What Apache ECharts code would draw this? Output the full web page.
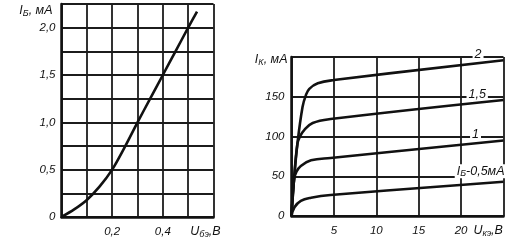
<!DOCTYPE html>
<html>
<head>
<meta charset="utf-8">
<script src="https://cdn.jsdelivr.net/npm/echarts@6/dist/echarts.min.js"></script>
<style>
html,body{margin:0;padding:0;background:#fff;}
#c{width:517px;height:249px;}
</style>
</head>
<body>
<div id="c"></div>
<script>
// ---- Input characteristic: I_B vs U_BE ----
const ubeV = [0, 0.05, 0.1, 0.15, 0.2, 0.25, 0.3, 0.35, 0.4, 0.45, 0.5, 0.535];
const ibMA = [0, 0.08, 0.18, 0.32, 0.5, 0.74, 1.0, 1.25, 1.5, 1.75, 2.0, 2.17];
const leftXTickVals = [0.2, 0.4];
const leftXTickText = ['0,2', '0,4'];
const leftYTickVals = [0, 0.5, 1.0, 1.5, 2.0];
const leftYTickText = ['0', '0,5', '1,0', '1,5', '2,0'];

// ---- Output characteristics: I_K vs U_KE for several I_B ----
const uke_2  = [0, 0.3, 0.7, 1.3, 1.7, 2.1, 3.1, 5, 25];
const ik_2   = [0, 46, 91, 137, 152, 160, 167, 171, 196];
const uke_15 = [0, 0.3, 0.7, 1.05, 1.5, 2.5, 4.6, 25];
const ik_15  = [0, 46, 91, 101, 108, 117, 122, 146];
const uke_1  = [0, 0.3, 0.6, 1.1, 2.3, 4.6, 25];
const ik_1   = [0, 46, 56, 63, 70, 73, 95];
const uke_05 = [0, 0.35, 1.1, 2.3, 4.6, 25];
const ik_05  = [0, 11, 19, 23, 26.5, 43];
const curveNames = ['2', '1,5', '1', '{b|I}{s|Б}{b|-0,5мА}'];
const curveLabelAt = [[22, 200], [21.9, 150], [21.7, 100], [22.3, 50]];
const rightXTickVals = [5, 10, 15, 20];
const rightXTickText = ['5', '10', '15', '20'];
const rightYTickVals = [0, 50, 100, 150];
const rightYTickText = ['0', '50', '100', '150'];

const FF = '"Liberation Sans", Arial, sans-serif';
const INK = '#111';
const GRIDC = '#1c1c1c';

function fmt(vals, texts) {
  return function (v) {
    for (let i = 0; i < vals.length; i++) if (Math.abs(v - vals[i]) < 1e-6) return texts[i];
    return '';
  };
}
function zip(a, b) { return a.map((x, i) => [x, b[i]]); }

const rich = {
  b: { fontSize: 12.5, fontStyle: 'italic', fontFamily: FF, color: INK, lineHeight: 14 },
  s: { fontSize: 9, fontStyle: 'italic', fontFamily: FF, color: INK, lineHeight: 9, verticalAlign: 'bottom' }
};
const labelStyle = { color: INK, fontSize: 11.5, fontStyle: 'italic', fontFamily: FF };

function axisCommon() {
  return {
    axisLine: { show: true, onZero: false, lineStyle: { color: INK, width: 2.5 } },
    axisTick: { show: false },
    splitLine: { show: true, lineStyle: { color: GRIDC, width: 1.8 } }
  };
}

const series = [
  {
    type: 'line', xAxisIndex: 0, yAxisIndex: 0, data: zip(ubeV, ibMA),
    smooth: 0.3, showSymbol: false, lineStyle: { color: INK, width: 2.6 }, z: 5
  }
];
const rightCurves = [[uke_2, ik_2], [uke_15, ik_15], [uke_1, ik_1], [uke_05, ik_05]];
rightCurves.forEach((c, i) => {
  series.push({
    type: 'line', xAxisIndex: 1, yAxisIndex: 1, data: zip(c[0], c[1]),
    smooth: 0.4, showSymbol: false,
    lineStyle: { color: INK, width: 2.6 }, z: 5,
    markPoint: {
      symbol: 'circle', symbolSize: 0, silent: true,
      data: [{ coord: curveLabelAt[i], value: 0 }],
      label: {
        show: true, position: 'inside', formatter: curveNames[i],
        backgroundColor: '#fff', padding: [0, 2, 0, 2],
        color: INK, fontSize: 12.5, fontStyle: 'italic', fontFamily: FF, rich: rich,
        offset: [0, i === 3 ? -5 : -2]
      }
    }
  });
});

const option = {
  animation: false,
  backgroundColor: '#fff',
  grid: [
    { left: 61.5, top: 4, width: 152, height: 213 },
    { left: 291.5, top: 57, width: 212, height: 159 }
  ],
  xAxis: [
    Object.assign(axisCommon(), {
      type: 'value', gridIndex: 0, min: 0, max: 0.6, interval: 0.1,
      axisLabel: Object.assign({ margin: 9, formatter: fmt(leftXTickVals, leftXTickText) }, labelStyle),
      name: '{b|U}{s|бэ}{b|,В}', nameLocation: 'end', nameGap: -8,
      nameTextStyle: { align: 'center', verticalAlign: 'top', padding: [8, 0, 0, 0], rich: rich }
    }),
    Object.assign(axisCommon(), {
      type: 'value', gridIndex: 1, min: 0, max: 25, interval: 5,
      axisLabel: Object.assign({ margin: 9, formatter: fmt(rightXTickVals, rightXTickText) }, labelStyle),
      name: '{b|U}{s|кэ}{b|,В}', nameLocation: 'end', nameGap: -16,
      nameTextStyle: { align: 'center', verticalAlign: 'top', padding: [8, 0, 0, 0], rich: rich }
    })
  ],
  yAxis: [
    Object.assign(axisCommon(), {
      type: 'value', gridIndex: 0, min: 0, max: 2.25, interval: 0.25,
      axisLabel: Object.assign({ margin: 6, formatter: fmt(leftYTickVals, leftYTickText) }, labelStyle),
      name: '{b|I}{s|Б}{b|, мА}', nameLocation: 'end', nameGap: 0,
      nameTextStyle: { align: 'right', verticalAlign: 'top', padding: [0, 9, 0, 0], rich: rich }
    }),
    Object.assign(axisCommon(), {
      type: 'value', gridIndex: 1, min: 0, max: 200, interval: 50,
      axisLabel: Object.assign({ margin: 7, formatter: fmt(rightYTickVals, rightYTickText) }, labelStyle),
      name: '{b|I}{s|К}{b|, мА}', nameLocation: 'end', nameGap: 4,
      nameTextStyle: { align: 'right', verticalAlign: 'top', padding: [0, 4, 0, 0], rich: rich }
    })
  ],
  series: series
};

const chart = echarts.init(document.getElementById('c'), null, { renderer: 'canvas' });
chart.setOption(option);
</script>
</body>
</html>
